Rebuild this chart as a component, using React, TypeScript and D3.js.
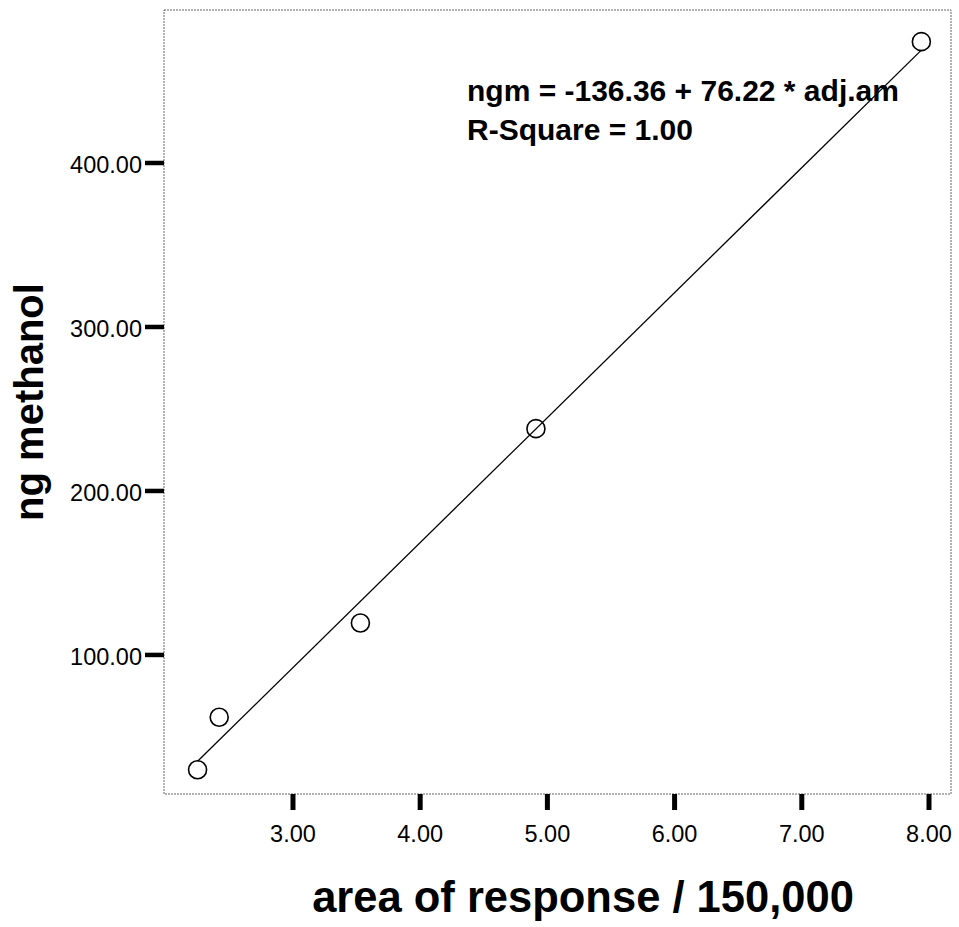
import React, { useRef, useEffect } from "react";
import * as d3 from "d3";

const adjAm = [2.25, 2.42, 3.53, 4.91, 7.94];
const ngMethanol = [30, 62, 119.5, 238, 474];
const xTicks = [3, 4, 5, 6, 7, 8];
const yTicks = [100, 200, 300, 400];
const intercept = -136.36;
const slope = 76.22;
const equationLines = ["ngm = -136.36 + 76.22 * adj.am", "R-Square = 1.00"];

const App = () => {
  const ref = useRef<SVGSVGElement>(null);

  useEffect(() => {
    const width = 959;
    const height = 927;
    const left = 164, right = 951, top = 10, bottom = 794;

    const x = d3.scaleLinear().domain([1.986, 8.173]).range([left, right]);
    const y = d3.scaleLinear().domain([15.2, 493.3]).range([bottom, top]);

    const svg = d3.select(ref.current).attr("width", width).attr("height", height);
    svg.selectAll("*").remove();
    svg.append("rect").attr("width", width).attr("height", height).attr("fill", "white");

    // frame
    svg
      .append("rect")
      .attr("x", left)
      .attr("y", top)
      .attr("width", right - left)
      .attr("height", bottom - top)
      .attr("fill", "none")
      .attr("stroke", "#666")
      .attr("stroke-width", 1)
      .attr("stroke-dasharray", "2,1");

    const font = "'Liberation Sans', Arial, Helvetica, sans-serif";

    // x ticks
    const gx = svg.append("g");
    gx.selectAll("line")
      .data(xTicks)
      .join("line")
      .attr("x1", (d) => x(d))
      .attr("x2", (d) => x(d))
      .attr("y1", bottom)
      .attr("y2", bottom + 16)
      .attr("stroke", "black")
      .attr("stroke-width", 5);
    gx.selectAll("text")
      .data(xTicks)
      .join("text")
      .attr("x", (d) => x(d))
      .attr("y", 842)
      .attr("text-anchor", "middle")
      .style("font-family", font)
      .style("font-size", "23.5px")
      .text((d) => d3.format(".2f")(d));

    // y ticks
    const gy = svg.append("g");
    gy.selectAll("line")
      .data(yTicks)
      .join("line")
      .attr("x1", left - 19)
      .attr("x2", left)
      .attr("y1", (d) => y(d))
      .attr("y2", (d) => y(d))
      .attr("stroke", "black")
      .attr("stroke-width", 4.5);
    gy.selectAll("text")
      .data(yTicks)
      .join("text")
      .attr("x", 142)
      .attr("y", (d) => y(d) + 10)
      .attr("text-anchor", "end")
      .style("font-family", font)
      .style("font-size", "23.5px")
      .text((d) => d3.format(".2f")(d));

    // fit line
    const [x0, x1] = d3.extent(adjAm) as [number, number];
    const line = d3
      .line<number>()
      .x((d) => x(d))
      .y((d) => y(intercept + slope * d));
    svg
      .append("path")
      .attr("d", line([x0, x1]))
      .attr("fill", "none")
      .attr("stroke", "black")
      .attr("stroke-width", 1.3);

    // points
    svg
      .append("g")
      .selectAll("circle")
      .data(adjAm.map((v, i) => [v, ngMethanol[i]]))
      .join("circle")
      .attr("cx", (d) => x(d[0]))
      .attr("cy", (d) => y(d[1]))
      .attr("r", 9)
      .attr("fill", "none")
      .attr("stroke", "black")
      .attr("stroke-width", 1.6);

    // equation
    svg
      .append("g")
      .selectAll("text")
      .data(equationLines)
      .join("text")
      .attr("x", 467)
      .attr("y", (d, i) => 101 + i * 39)
      .style("font-family", font)
      .style("font-weight", "bold")
      .style("font-size", "30px")
      .text((d) => d);

    // axis titles
    svg
      .append("text")
      .attr("x", 583)
      .attr("y", 912)
      .attr("text-anchor", "middle")
      .style("font-family", font)
      .style("font-weight", "bold")
      .style("font-size", "43.5px")
      .text("area of response / 150,000");

    svg
      .append("text")
      .attr("transform", "translate(43,402) rotate(-90)")
      .attr("text-anchor", "middle")
      .style("font-family", font)
      .style("font-weight", "bold")
      .style("font-size", "40px")
      .text("ng methanol");
  }, []);

  return <svg ref={ref} style={{ position: "absolute", left: 0, top: 0 }} />;
};

export default App;
